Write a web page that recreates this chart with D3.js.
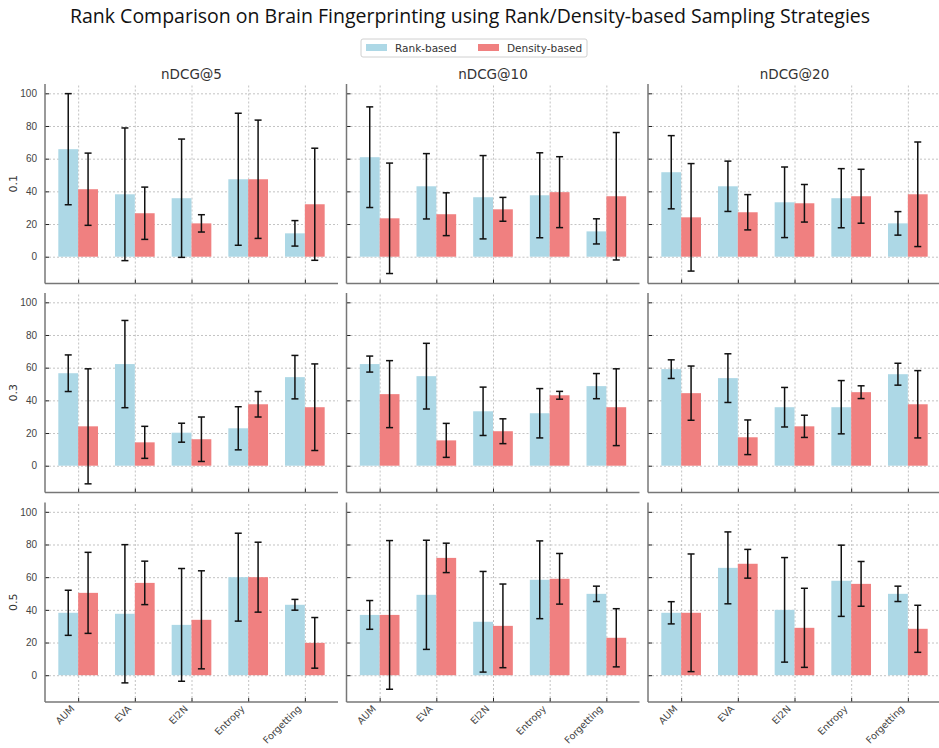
<!DOCTYPE html>
<html>
<head>
<meta charset="utf-8">
<script src="https://cdn.jsdelivr.net/npm/d3@7"></script>
<style>
  body { margin: 0; background: #fff; }
  svg { display: block; font-family: "DejaVu Sans", sans-serif; }
  .grid line { stroke: #b4b4b4; stroke-dasharray: 2,2; stroke-width: 0.8; }
  .grid path { display: none; }
  .tk text { fill: #444; font-size: 10px; }
  .tk line { stroke: #222; stroke-width: 1; }
  .tk path { display: none; }
</style>
</head>
<body>
<div id="chart"></div>
<script>
const categories = ["AUM", "EVA", "El2N", "Entropy", "Forgetting"];
const metrics = ["nDCG@5", "nDCG@10", "nDCG@20"];
const ratios = ["0.1", "0.3", "0.5"];
const yTicks = [0, 20, 40, 60, 80, 100];

// one inner array per metric (@5, @10, @20)
const rankMean01 = [[65.8, 38.2, 35.8, 47.4, 14.3], [60.9, 43.1, 36.4, 37.6, 15.5], [51.7, 43.1, 33.3, 35.8, 20.4]];
const rankErr01  = [[34.0, 40.6, 36.2, 40.4, 7.8], [30.8, 20.0, 25.5, 26.0, 7.7], [22.4, 15.4, 21.6, 18.1, 7.2]];
const densMean01 = [[41.3, 26.6, 20.4, 47.4, 32.1], [23.5, 26.0, 29.0, 39.5, 37.0], [24.1, 27.2, 32.7, 37.0, 38.2]];
const densErr01  = [[22.1, 16.0, 5.3, 36.2, 34.3], [33.8, 13.1, 7.3, 21.7, 39.0], [32.9, 10.8, 11.5, 16.5, 32.0]];

const rankMean03 = [[56.6, 62.2, 20.2, 22.9, 54.2], [62.2, 54.8, 33.3, 32.1, 48.7], [59.1, 53.6, 35.8, 35.8, 56.0]];
const rankErr03  = [[11.2, 26.7, 5.8, 13.2, 13.3], [4.9, 20.1, 14.8, 15.1, 7.7], [5.7, 14.9, 12.1, 16.3, 6.7]];
const densMean03 = [[24.1, 14.3, 16.2, 37.6, 35.8], [43.8, 15.5, 21.1, 43.1, 35.8], [44.4, 17.4, 24.1, 45.0, 37.6]];
const densErr03  = [[35.2, 9.8, 13.6, 7.8, 26.5], [20.5, 10.4, 7.6, 2.4, 23.5], [16.6, 10.6, 6.8, 3.9, 20.6]];

const rankMean05 = [[38.2, 37.6, 30.8, 60.0, 43.1], [36.9, 49.2, 32.7, 58.4, 49.8], [38.2, 65.7, 40.0, 57.8, 49.8]];
const rankErr05  = [[13.8, 42.3, 34.5, 26.9, 3.3], [8.8, 33.4, 30.8, 23.8, 4.7], [6.8, 22.0, 32.0, 21.8, 4.7]];
const densMean05 = [[50.4, 56.5, 33.9, 60.0, 19.8], [36.9, 71.8, 30.2, 59.0, 22.9], [38.2, 68.2, 29.0, 55.9, 28.4]];
const densErr05  = [[24.8, 13.3, 30.0, 21.4, 15.5], [45.5, 9.0, 25.6, 15.5, 17.8], [36.0, 8.8, 24.2, 13.7, 14.4]];

const rankMeans = [rankMean01, rankMean03, rankMean05];
const rankErrs = [rankErr01, rankErr03, rankErr05];
const densMeans = [densMean01, densMean03, densMean05];
const densErrs = [densErr01, densErr03, densErr05];

const width = 939;
const height = 748;
const panelW = 293;
const panelH = 199.5;
const colX = [45, 346.5, 648];
const rowY = [84, 293, 502.5];
const barW = 0.35;
const rankColor = "#add8e6";
const densColor = "#f08080";

const svg = d3.select("#chart")
  .append("svg")
  .attr("width", width)
  .attr("height", height);

svg.append("text")
  .attr("x", 470)
  .attr("y", 23)
  .attr("text-anchor", "middle")
  .style("font-family", "'Open Sans', sans-serif")
  .style("font-size", "19.5px")
  .attr("fill", "#111")
  .text("Rank Comparison on Brain Fingerprinting using Rank/Density-based Sampling Strategies");

// legend
const legend = svg.append("g").attr("transform", "translate(361, 39)");
legend.append("rect")
  .attr("width", 226).attr("height", 18)
  .attr("rx", 2)
  .attr("fill", "#fff")
  .attr("stroke", "#d0d0d0");
[["Rank-based", rankColor, 5], ["Density-based", densColor, 117]].forEach(([label, color, off]) => {
  legend.append("rect")
    .attr("x", off).attr("y", 5)
    .attr("width", 21).attr("height", 7)
    .attr("fill", color);
  legend.append("text")
    .attr("x", off + 29).attr("y", 12.5)
    .style("font-size", "10.5px")
    .attr("fill", "#333")
    .text(label);
});

const x = d3.scaleLinear().domain([-0.585, 4.585]).range([0, panelW]);
const y = d3.scaleLinear().domain([-16.4, 105.7]).range([panelH, 0]);

ratios.forEach((ratio, r) => {
  metrics.forEach((metric, c) => {
    const g = svg.append("g").attr("transform", `translate(${colX[c]}, ${rowY[r]})`);

    // grid
    g.append("g").attr("class", "grid")
      .call(d3.axisLeft(y).tickValues(yTicks).tickSize(-panelW).tickFormat(""));
    g.append("g").attr("class", "grid")
      .attr("transform", `translate(0, ${panelH})`)
      .call(d3.axisBottom(x).tickValues(d3.range(categories.length)).tickSize(-panelH).tickFormat(""));

    const rows = categories.map((cat, i) => ({
      i,
      rank: rankMeans[r][c][i], rankErr: rankErrs[r][c][i],
      dens: densMeans[r][c][i], densErr: densErrs[r][c][i]
    }));

    g.selectAll(".rank").data(rows).enter().append("rect")
      .attr("x", d => x(d.i - barW))
      .attr("y", d => y(d.rank))
      .attr("width", x(barW) - x(0))
      .attr("height", d => y(0) - y(d.rank))
      .attr("fill", rankColor);
    g.selectAll(".dens").data(rows).enter().append("rect")
      .attr("x", d => x(d.i))
      .attr("y", d => y(d.dens))
      .attr("width", x(barW) - x(0))
      .attr("height", d => y(0) - y(d.dens))
      .attr("fill", densColor);

    // error bars
    const errs = [];
    rows.forEach(d => {
      errs.push({ cx: d.i - barW / 2, lo: d.rank - d.rankErr, hi: d.rank + d.rankErr });
      errs.push({ cx: d.i + barW / 2, lo: d.dens - d.densErr, hi: d.dens + d.densErr });
    });
    const eb = g.selectAll(".err").data(errs).enter().append("g")
      .attr("stroke", "#111").attr("stroke-width", 1.5);
    eb.append("line")
      .attr("x1", d => x(d.cx)).attr("x2", d => x(d.cx))
      .attr("y1", d => y(d.lo)).attr("y2", d => y(d.hi));
    eb.append("line")
      .attr("x1", d => x(d.cx) - 3.5).attr("x2", d => x(d.cx) + 3.5)
      .attr("y1", d => y(d.hi)).attr("y2", d => y(d.hi));
    eb.append("line")
      .attr("x1", d => x(d.cx) - 3.5).attr("x2", d => x(d.cx) + 3.5)
      .attr("y1", d => y(d.lo)).attr("y2", d => y(d.lo));

    // inward ticks
    g.append("g").attr("class", "tk")
      .call(d3.axisLeft(y).tickValues(yTicks).tickSizeInner(-4).tickSizeOuter(0).tickPadding(8)
        .tickFormat(c === 0 ? d3.format("d") : ""));
    g.append("g").attr("class", "tk")
      .attr("transform", `translate(0, ${panelH})`)
      .call(d3.axisBottom(x).tickValues(d3.range(categories.length)).tickSizeInner(-4).tickSizeOuter(0)
        .tickFormat(""));

    if (r === ratios.length - 1) {
      g.selectAll(".xlab").data(categories).enter().append("text")
        .attr("transform", (d, i) => `translate(${x(i) - 3}, ${panelH + 7.5}) rotate(-45)`)
        .attr("text-anchor", "end")
        .style("font-size", "9.6px")
        .attr("fill", "#444")
        .text(d => d);
    }

    // spines
    g.append("line")
      .attr("x1", 0).attr("x2", 0).attr("y1", 0).attr("y2", panelH)
      .attr("stroke", "#777").attr("stroke-width", 1.5);
    g.append("line")
      .attr("x1", 0).attr("x2", panelW).attr("y1", panelH).attr("y2", panelH)
      .attr("stroke", "#777").attr("stroke-width", 1.5);

    if (r === 0) {
      g.append("text")
        .attr("x", panelW / 2).attr("y", -5)
        .attr("text-anchor", "middle")
        .style("font-size", "13.5px")
        .attr("fill", "#333")
        .text(metric);
    }
    if (c === 0) {
      g.append("text")
        .attr("transform", `translate(-28, ${panelH / 2}) rotate(-90)`)
        .attr("text-anchor", "middle")
        .style("font-size", "11px")
        .attr("fill", "#333")
        .text(ratio);
    }
  });
});
</script>
</body>
</html>
